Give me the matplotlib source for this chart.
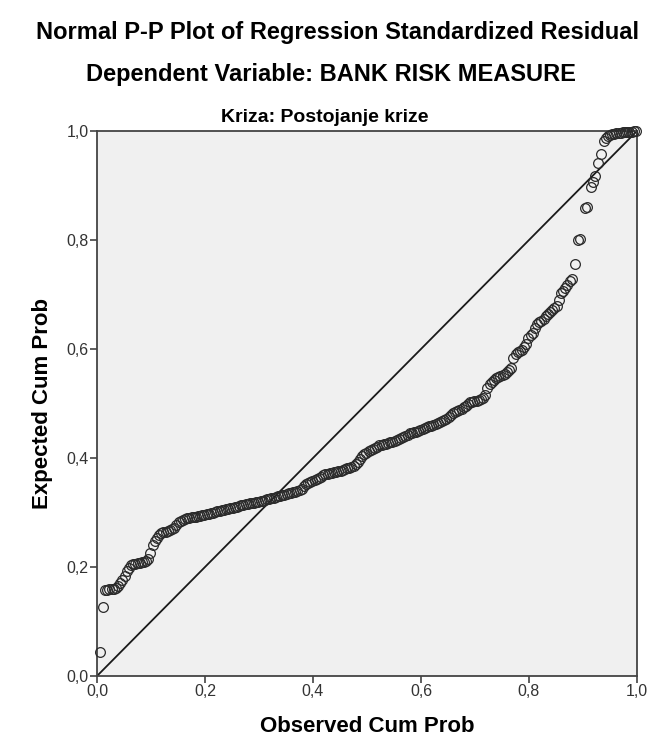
import matplotlib
matplotlib.use("Agg")
import matplotlib.pyplot as plt
from matplotlib.ticker import FixedLocator, FuncFormatter

plt.rcParams["font.family"] = ["Liberation Sans", "DejaVu Sans"]

TITLE = "Normal P-P Plot of Regression Standardized Residual"
SUBTITLE = "Dependent Variable: BANK RISK MEASURE"
PANEL = "Kriza: Postojanje krize"
X_LABEL = "Observed Cum Prob"
Y_LABEL = "Expected Cum Prob"
TICKS = [0.0, 0.2, 0.4, 0.6, 0.8, 1.0]

# observed cumulative probability (x) and expected cumulative probability (y)
obs_cum_prob = [
    0.005, 0.011, 0.015, 0.019, 0.023, 0.027, 0.031, 0.035, 0.039, 0.043,
    0.047, 0.051, 0.055, 0.059,
    0.063, 0.067, 0.071, 0.075, 0.079, 0.083, 0.087, 0.091, 0.095, 0.099,
    0.103, 0.107, 0.111, 0.115, 0.119, 0.123, 0.127, 0.131, 0.135, 0.139,
    0.143, 0.147,
    0.151, 0.155, 0.159, 0.163, 0.167, 0.171, 0.175, 0.179, 0.183, 0.187,
    0.191, 0.195, 0.199, 0.203, 0.207, 0.211, 0.215, 0.219, 0.223, 0.227,
    0.231, 0.235, 0.239, 0.243, 0.247, 0.251, 0.255, 0.259, 0.263, 0.267,
    0.271, 0.275, 0.279, 0.283, 0.287, 0.291, 0.295, 0.299,
    0.303, 0.307, 0.311, 0.315, 0.319, 0.323, 0.327, 0.331, 0.335, 0.339,
    0.343, 0.347, 0.351, 0.355, 0.359, 0.363, 0.367, 0.371, 0.375, 0.379,
    0.383, 0.387, 0.391, 0.395, 0.399, 0.403, 0.407, 0.411, 0.415, 0.419,
    0.423, 0.427, 0.431, 0.435, 0.439, 0.443, 0.447, 0.451, 0.455, 0.459,
    0.463, 0.467, 0.471, 0.475, 0.479, 0.483, 0.487,
    0.491, 0.495, 0.499, 0.503, 0.507, 0.511, 0.515, 0.519, 0.523, 0.527,
    0.531, 0.535, 0.539, 0.543, 0.547, 0.551, 0.555, 0.559, 0.563, 0.567,
    0.571, 0.575, 0.579,
    0.583, 0.587, 0.591, 0.595, 0.599, 0.603, 0.607, 0.611, 0.615, 0.619,
    0.623, 0.627, 0.631, 0.635, 0.639, 0.643, 0.647,
    0.651, 0.655, 0.659, 0.663, 0.667, 0.671, 0.675, 0.679, 0.683, 0.687,
    0.691, 0.695, 0.699, 0.703, 0.707, 0.711, 0.715, 0.719,
    0.723, 0.727, 0.731, 0.735, 0.739, 0.743, 0.747, 0.751, 0.755, 0.759,
    0.763, 0.767,
    0.771, 0.775, 0.779, 0.783, 0.787, 0.791, 0.795, 0.799, 0.803, 0.807,
    0.811, 0.815, 0.819,
    0.823, 0.827, 0.831, 0.835, 0.839, 0.843, 0.847, 0.851, 0.855, 0.859,
    0.863, 0.867, 0.871, 0.875, 0.879,
    0.885, 0.891, 0.895, 0.903, 0.907, 0.914, 0.918, 0.923, 0.928, 0.934,
    0.938, 0.942, 0.946, 0.950, 0.954, 0.958, 0.962, 0.966, 0.970, 0.974,
    0.978, 0.982, 0.986, 0.990, 0.994, 0.998,
]
exp_cum_prob = [
    0.044, 0.126, 0.157, 0.158, 0.159, 0.159, 0.160, 0.161, 0.165, 0.171,
    0.176, 0.183, 0.192, 0.198,
    0.203, 0.205, 0.206, 0.207, 0.208, 0.209, 0.210, 0.211, 0.214, 0.226,
    0.240, 0.247, 0.254, 0.259, 0.262, 0.264, 0.265, 0.266, 0.267, 0.269,
    0.272, 0.277,
    0.282, 0.285, 0.287, 0.288, 0.289, 0.290, 0.291, 0.292, 0.292, 0.293,
    0.294, 0.295, 0.296, 0.297, 0.298, 0.299, 0.300, 0.301, 0.302, 0.303,
    0.304, 0.305, 0.306, 0.307, 0.308, 0.309, 0.310, 0.311, 0.312, 0.313,
    0.314, 0.315, 0.316, 0.317, 0.318, 0.318, 0.319, 0.320,
    0.321, 0.322, 0.323, 0.324, 0.325, 0.326, 0.327, 0.328, 0.330, 0.331,
    0.332, 0.333, 0.334, 0.335, 0.336, 0.337, 0.338, 0.339, 0.341, 0.343,
    0.348, 0.352, 0.354, 0.356, 0.358, 0.360, 0.362, 0.364, 0.366, 0.368,
    0.370, 0.371, 0.372, 0.373, 0.374, 0.375, 0.376, 0.377, 0.378, 0.379,
    0.381, 0.382, 0.384, 0.386, 0.389, 0.393, 0.398,
    0.404, 0.407, 0.410, 0.413, 0.415, 0.417, 0.419, 0.421, 0.423, 0.424,
    0.425, 0.426, 0.428, 0.429, 0.430, 0.432, 0.433, 0.435, 0.437, 0.439,
    0.441, 0.443, 0.445,
    0.446, 0.447, 0.448, 0.450, 0.451, 0.453, 0.455, 0.456, 0.458, 0.459,
    0.461, 0.462, 0.464, 0.466, 0.467, 0.469, 0.472,
    0.476, 0.479, 0.482, 0.484, 0.486, 0.488, 0.490, 0.493, 0.496, 0.499,
    0.502, 0.503, 0.504, 0.505, 0.506, 0.508, 0.511, 0.516,
    0.528, 0.535, 0.540, 0.543, 0.546, 0.548, 0.550, 0.552, 0.554, 0.557,
    0.561, 0.566,
    0.583, 0.590, 0.594, 0.596, 0.598, 0.603, 0.609, 0.620, 0.625, 0.630,
    0.638, 0.645, 0.650,
    0.652, 0.655, 0.660, 0.665, 0.668, 0.672, 0.676, 0.679, 0.690, 0.703,
    0.707, 0.712, 0.718, 0.724, 0.728,
    0.756, 0.800, 0.802, 0.858, 0.860, 0.898, 0.906, 0.918, 0.942, 0.958,
    0.982, 0.988, 0.990, 0.992, 0.994, 0.995, 0.996, 0.997, 0.997, 0.998,
    0.998, 0.999, 0.999, 0.999, 1.000, 1.000,
]
reference_line = [0.0, 1.0]


def comma_fmt(v, _pos):
    return f"{v:.1f}".replace(".", ",")


fig = plt.figure(figsize=(6.5, 7.42), dpi=100)
fig.patch.set_facecolor("white")
ax = fig.add_axes([97 / 650, 66 / 742, 540 / 650, 545 / 742])
ax.set_facecolor("#F0F0F0")

ax.plot(reference_line, reference_line, color="#1a1a1a", lw=1.3, zorder=2)
ax.plot(obs_cum_prob, exp_cum_prob, linestyle="none", marker="o",
        markersize=7.0, markerfacecolor="none", markeredgecolor="#2a2a2a",
        markeredgewidth=0.9, zorder=3, clip_on=False)

ax.set_xlim(0, 1)
ax.set_ylim(0, 1)
ax.xaxis.set_major_locator(FixedLocator(TICKS))
ax.yaxis.set_major_locator(FixedLocator(TICKS))
ax.xaxis.set_major_formatter(FuncFormatter(comma_fmt))
ax.yaxis.set_major_formatter(FuncFormatter(comma_fmt))
ax.tick_params(direction="out", length=5, width=1.1, color="#333333",
               labelsize=11.5, labelcolor="#333333", pad=1)
for sp in ax.spines.values():
    sp.set_color("#444444")
    sp.set_linewidth(1.3)

ax.set_xlabel(X_LABEL, fontsize=16, fontweight="bold", labelpad=12)
ax.set_ylabel(Y_LABEL, fontsize=16, fontweight="bold", labelpad=10)

fig.text(337 / 650, 1 - 32 / 742, TITLE, ha="center", va="center",
         fontsize=17, fontweight="bold")
fig.text(331 / 650, 1 - 74 / 742, SUBTITLE, ha="center", va="center",
         fontsize=17, fontweight="bold")
fig.text(325 / 650, 1 - 117 / 742, PANEL, ha="center", va="center",
         fontsize=14, fontweight="bold")

fig.savefig("out.png", dpi=100, facecolor="white")
